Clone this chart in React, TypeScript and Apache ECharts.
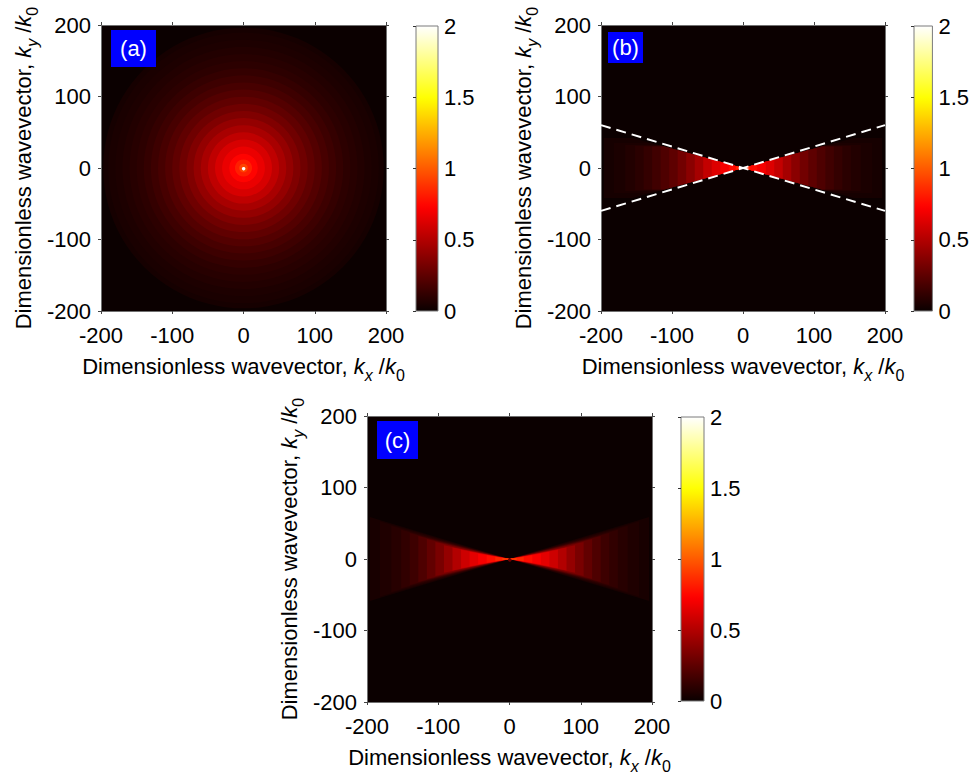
import React, { useEffect, useRef } from 'react';
import * as echarts from 'echarts';

// ---------- data ----------
const axisMin = -200;
const axisMax = 200;
const axisStep = 100;
const colorbarMin = 0;
const colorbarMax = 2;
const colorbarStep = 0.5;
const panelLabels = ['(a)', '(b)', '(c)'];

// panel (a): radial bands (outer radius in k/k0, value)
const ringRadiusA = [197, 190, 180, 170, 160, 150, 140, 130, 120, 110, 100, 90, 80, 70, 60, 50, 40, 30, 20, 12, 6, 2.5];
const ringValueA = [0.035, 0.045, 0.055, 0.07, 0.085, 0.1, 0.125, 0.15, 0.18, 0.215, 0.255, 0.3, 0.35, 0.41, 0.47, 0.54, 0.61, 0.67, 0.74, 0.82, 0.93, 2.0];

// panel (b): nested level regions: cone (slope) limited to |kx|<X and |ky|<Y
const levelXB = [196, 182, 166, 152, 140, 128, 116, 104, 92, 80, 68, 56, 44, 32, 20, 10, 4];
const levelYB = [42, 35, 32, 31, 30, 30, 30, 30, 30, 30, 30, 30, 30, 30, 30, 30, 30];
const levelValueB = [0.035, 0.05, 0.07, 0.095, 0.125, 0.16, 0.2, 0.25, 0.31, 0.38, 0.46, 0.55, 0.63, 0.7, 0.76, 0.84, 1.0];
const coneSlopeB = 0.27;
const dashedLineB1 = [[-200, 60], [200, -60]];
const dashedLineB2 = [[-200, -60], [200, 60]];

// panel (c)
const levelXC = [196, 182, 166, 152, 140, 128, 116, 104, 92, 80, 68, 56, 44, 32, 20, 10, 4];
const levelSlopeC = [0.3, 0.29, 0.28, 0.27, 0.26, 0.25, 0.24, 0.23, 0.21, 0.2, 0.19, 0.18, 0.17, 0.16, 0.15, 0.14, 0.14];
const levelValueC = [0.04, 0.06, 0.085, 0.115, 0.15, 0.2, 0.26, 0.33, 0.41, 0.5, 0.58, 0.65, 0.71, 0.77, 0.84, 0.92, 1.0];
const originDotC = [[2.5, 0.3]];

// ---------- styling helpers ----------
const FONT = '"Liberation Sans", Arial, Helvetica, sans-serif';
const FS = 22;

function hot(v: number): string {
  const t = Math.max(0, Math.min(1, v / 2));
  const i = t * 63 + 1;
  const r = Math.min(1, i / 24);
  const g = Math.max(0, Math.min(1, (i - 24) / 24));
  const b = Math.max(0, Math.min(1, (i - 48) / 16));
  return `rgb(${Math.round(r * 255)},${Math.round(g * 255)},${Math.round(b * 255)})`;
}

const rich = {
  n: { fontSize: FS, fontFamily: FONT, lineHeight: 34, color: '#000' },
  i: { fontSize: FS, fontFamily: FONT, fontStyle: 'italic', lineHeight: 34, color: '#000' },
  s: { fontSize: 16, fontFamily: FONT, fontStyle: 'italic', lineHeight: 14, verticalAlign: 'bottom', color: '#000' },
  z: { fontSize: 16, fontFamily: FONT, lineHeight: 14, verticalAlign: 'bottom', color: '#000' },
};
const xName = '{n|Dimensionless wavevector, }{i|k}{s|x}{n| /}{i|k}{z|0}';
const yName = '{n|Dimensionless wavevector, }{i|k}{s|y}{n| /}{i|k}{z|0}';

const mainGrids = [
  { left: 101, top: 25, width: 285, height: 286 },
  { left: 601, top: 25, width: 284, height: 286 },
  { left: 367, top: 416, width: 285, height: 286 },
];
const barGrids = [
  { left: 416, top: 26, width: 22, height: 285 },
  { left: 914, top: 26, width: 23, height: 285 },
  { left: 681, top: 417, width: 23, height: 284 },
];
const labelBoxes = [
  { x: 111, y: 30, w: 45, h: 37 },
  { x: 608, y: 32, w: 35, h: 31 },
  { x: 377, y: 421, w: 41, h: 38 },
];

function renderRing(params: any, api: any) {
  const c = api.coord([0, 0]);
  const rad = api.size([api.value(0), 0])[0];
  return { type: 'circle', shape: { cx: c[0], cy: c[1], r: rad }, style: { fill: hot(api.value(1)) } };
}

function renderCone(params: any, api: any) {
  const v = api.value(0);
  const X = api.value(1);
  const Y = api.value(2);
  const s = api.value(3);
  const pts = (sign: number) => {
    const h = s * X;
    let p: number[][];
    if (h <= Y) p = [[0, 0], [X, h], [X, -h]];
    else {
      const x1 = Y / s;
      p = [[0, 0], [x1, Y], [X, Y], [X, -Y], [x1, -Y]];
    }
    return p.map(([x, y]) => api.coord([sign * x, y]));
  };
  const fill = hot(v);
  return {
    type: 'group',
    children: [
      { type: 'polygon', shape: { points: pts(1) }, style: { fill } },
      { type: 'polygon', shape: { points: pts(-1) }, style: { fill } },
    ],
  };
}

function renderBar(params: any, api: any) {
  const p0 = api.coord([0, colorbarMin]);
  const p1 = api.coord([1, colorbarMax]);
  const stops = [];
  for (let k = 0; k <= 64; k++) {
    stops.push({ offset: k / 64, color: hot((k / 64) * colorbarMax) });
  }
  return {
    type: 'rect',
    shape: { x: p0[0], y: p1[1], width: p1[0] - p0[0], height: p0[1] - p1[1] },
    style: {
      fill: { type: 'linear', x: 0, y: 1, x2: 0, y2: 0, colorStops: stops },
      stroke: '#7a7a7a',
      lineWidth: 1,
    },
  };
}

function buildOption() {
  const axisLine = { show: true, onZero: false, lineStyle: { color: '#707070', width: 1 } };
  const axisTick = { show: true, inside: false, length: 3, lineStyle: { color: '#444' } };
  const labelStyle = { fontSize: FS, fontFamily: FONT, color: '#000' };
  const xAxis: any[] = [];
  const yAxis: any[] = [];
  mainGrids.forEach((g, i) => {
    xAxis.push({
      type: 'value', gridIndex: i, min: axisMin, max: axisMax, interval: axisStep, position: 'bottom',
      axisLine, axisTick, splitLine: { show: false },
      axisLabel: { ...labelStyle, margin: 13 },
      name: xName, nameLocation: 'middle', nameGap: 38, nameTextStyle: { rich },
    });
    xAxis.push({
      type: 'value', gridIndex: i, min: axisMin, max: axisMax, interval: axisStep, position: 'top',
      axisLine, axisTick, splitLine: { show: false }, axisLabel: { show: false },
    });
    yAxis.push({
      type: 'value', gridIndex: i, min: axisMin, max: axisMax, interval: axisStep, position: 'left',
      axisLine, axisTick, splitLine: { show: false },
      axisLabel: { ...labelStyle, margin: 10 },
      name: yName, nameLocation: 'middle', nameGap: 61, nameTextStyle: { rich },
    });
    yAxis.push({
      type: 'value', gridIndex: i, min: axisMin, max: axisMax, interval: axisStep, position: 'right',
      axisLine, axisTick, splitLine: { show: false }, axisLabel: { show: false },
    });
  });
  barGrids.forEach((g, j) => {
    xAxis.push({ type: 'value', gridIndex: 3 + j, min: 0, max: 1, show: false });
    yAxis.push({
      type: 'value', gridIndex: 3 + j, min: colorbarMin, max: colorbarMax, interval: colorbarStep, position: 'right',
      z: 10,
      axisLine: { show: false },
      axisTick: { show: true, inside: true, length: 3, lineStyle: { color: '#333' } },
      splitLine: { show: false },
      axisLabel: { ...labelStyle, margin: 6 },
    });
  });

  const grid = [
    ...mainGrids.map((g) => ({ ...g, show: true, backgroundColor: hot(0), borderWidth: 0 })),
    ...barGrids.map((g) => ({ ...g })),
  ];

  const series: any[] = [
    {
      type: 'custom', xAxisIndex: 0, yAxisIndex: 0, silent: true,
      data: ringRadiusA.map((r, i) => [r, ringValueA[i]]),
      renderItem: renderRing,
    },
    {
      type: 'custom', xAxisIndex: 2, yAxisIndex: 2, silent: true,
      data: levelXB.map((X, i) => [levelValueB[i], X, levelYB[i], coneSlopeB]),
      renderItem: renderCone,
    },
    {
      type: 'line', xAxisIndex: 2, yAxisIndex: 2, data: dashedLineB1, symbol: 'none', silent: true, z: 5,
      lineStyle: { color: '#ffffff', width: 2, type: [10, 6] },
    },
    {
      type: 'line', xAxisIndex: 2, yAxisIndex: 2, data: dashedLineB2, symbol: 'none', silent: true, z: 5,
      lineStyle: { color: '#ffffff', width: 2, type: [10, 6] },
    },
    {
      type: 'custom', xAxisIndex: 4, yAxisIndex: 4, silent: true,
      data: levelXC.map((X, i) => [levelValueC[i], X, 999, levelSlopeC[i]]),
      renderItem: renderCone,
    },
    {
      type: 'custom', xAxisIndex: 4, yAxisIndex: 4, silent: true,
      data: originDotC,
      renderItem: renderRing,
    },
    ...barGrids.map((g, j) => ({
      type: 'custom', xAxisIndex: 6 + j, yAxisIndex: 6 + j, silent: true,
      data: [[0, 0]],
      renderItem: renderBar,
    })),
  ];

  const graphic: any[] = [];
  labelBoxes.forEach((b, i) => {
    graphic.push({ type: 'rect', z: 100, shape: { x: b.x, y: b.y, width: b.w, height: b.h }, style: { fill: '#0000ff' } });
    graphic.push({
      type: 'text', z: 101, x: b.x + b.w / 2, y: b.y + b.h / 2,
      style: { text: panelLabels[i], fill: '#ffffff', fontSize: FS, fontFamily: FONT, align: 'center', verticalAlign: 'middle' },
    });
  });

  return { animation: false, backgroundColor: '#ffffff', grid, xAxis, yAxis, series, graphic };
}

export default function App() {
  const ref = useRef<HTMLDivElement>(null);
  useEffect(() => {
    const chart = echarts.init(ref.current as HTMLDivElement, undefined, { renderer: 'svg' });
    chart.setOption(buildOption() as any);
    return () => chart.dispose();
  }, []);
  return <div ref={ref} style={{ position: 'absolute', left: 0, top: 0, width: 972, height: 776, background: '#fff' }} />;
}
